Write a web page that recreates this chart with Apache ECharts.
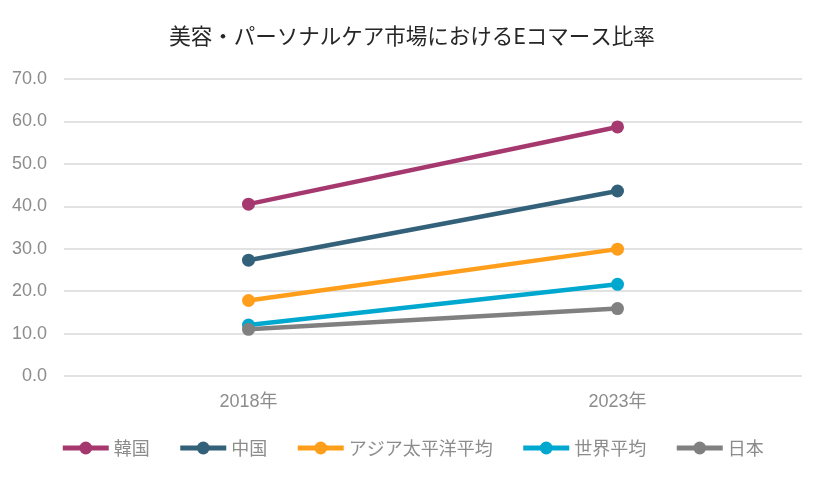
<!DOCTYPE html>
<html><head><meta charset="utf-8">
<script src="https://cdn.jsdelivr.net/npm/echarts@6/dist/echarts.min.js"></script>
<style>html,body{margin:0;padding:0;background:#fff}#c{width:824px;height:478px}</style>
</head><body><div id="c"></div>
<script>
const categories = ['2018年', '2023年'];
const seriesNames = ['韓国', '中国', 'アジア太平洋平均', '世界平均', '日本'];
const korea = [40.5, 58.7];
const china = [27.3, 43.6];
const asiaPacific = [17.8, 29.9];
const world = [12.0, 21.6];
const japan = [11.0, 15.9];
const yTicks = [0, 10, 20, 30, 40, 50, 60, 70];
const colors = ['#A5396F', '#336179', '#FF9E1B', '#00A8CF', '#808080'];

const values = [korea, china, asiaPacific, world, japan];
const font = '"Liberation Sans", "Noto Sans CJK JP", sans-serif';
const jpFont = '"Noto Sans CJK JP", sans-serif';
const chart = echarts.init(document.getElementById('c'));
chart.setOption({
  animation: false,
  title: { text: '美容・パーソナルケア市場におけるEコマース比率', left: 'center', top: 20,
    textStyle: { fontFamily: jpFont, fontSize: 21.5, fontWeight: 'normal', color: '#262626' } },
  grid: { left: 64, right: 22, top: 79, bottom: 102, containLabel: false },
  legend: { top: 434, left: 'center', itemWidth: 46, itemHeight: 16, itemGap: 28,
    lineStyle: { width: 5 },
    textStyle: { fontFamily: jpFont, fontSize: 18, color: '#8c8c8c' },
    data: seriesNames },
  xAxis: { type: 'category', data: categories, boundaryGap: true,
    axisLine: { show: false }, axisTick: { show: false },
    axisLabel: { fontFamily: font, fontSize: 18, color: '#8c8c8c', margin: 17 } },
  yAxis: { type: 'value', min: yTicks[0], max: yTicks[yTicks.length - 1], interval: 10,
    axisLine: { show: false }, axisTick: { show: false },
    splitLine: { lineStyle: { color: '#d9d9d9', width: 1.5 } },
    axisLabel: { fontFamily: font, fontSize: 18, color: '#8c8c8c', margin: 17,
      formatter: v => v.toFixed(1) } },
  series: seriesNames.map((n, i) => ({
    name: n, type: 'line', data: values[i], color: colors[i],
    symbol: 'circle', symbolSize: 13,
    lineStyle: { width: 4.5, color: colors[i] },
    itemStyle: { color: colors[i] }
  }))
});
</script></body></html>
